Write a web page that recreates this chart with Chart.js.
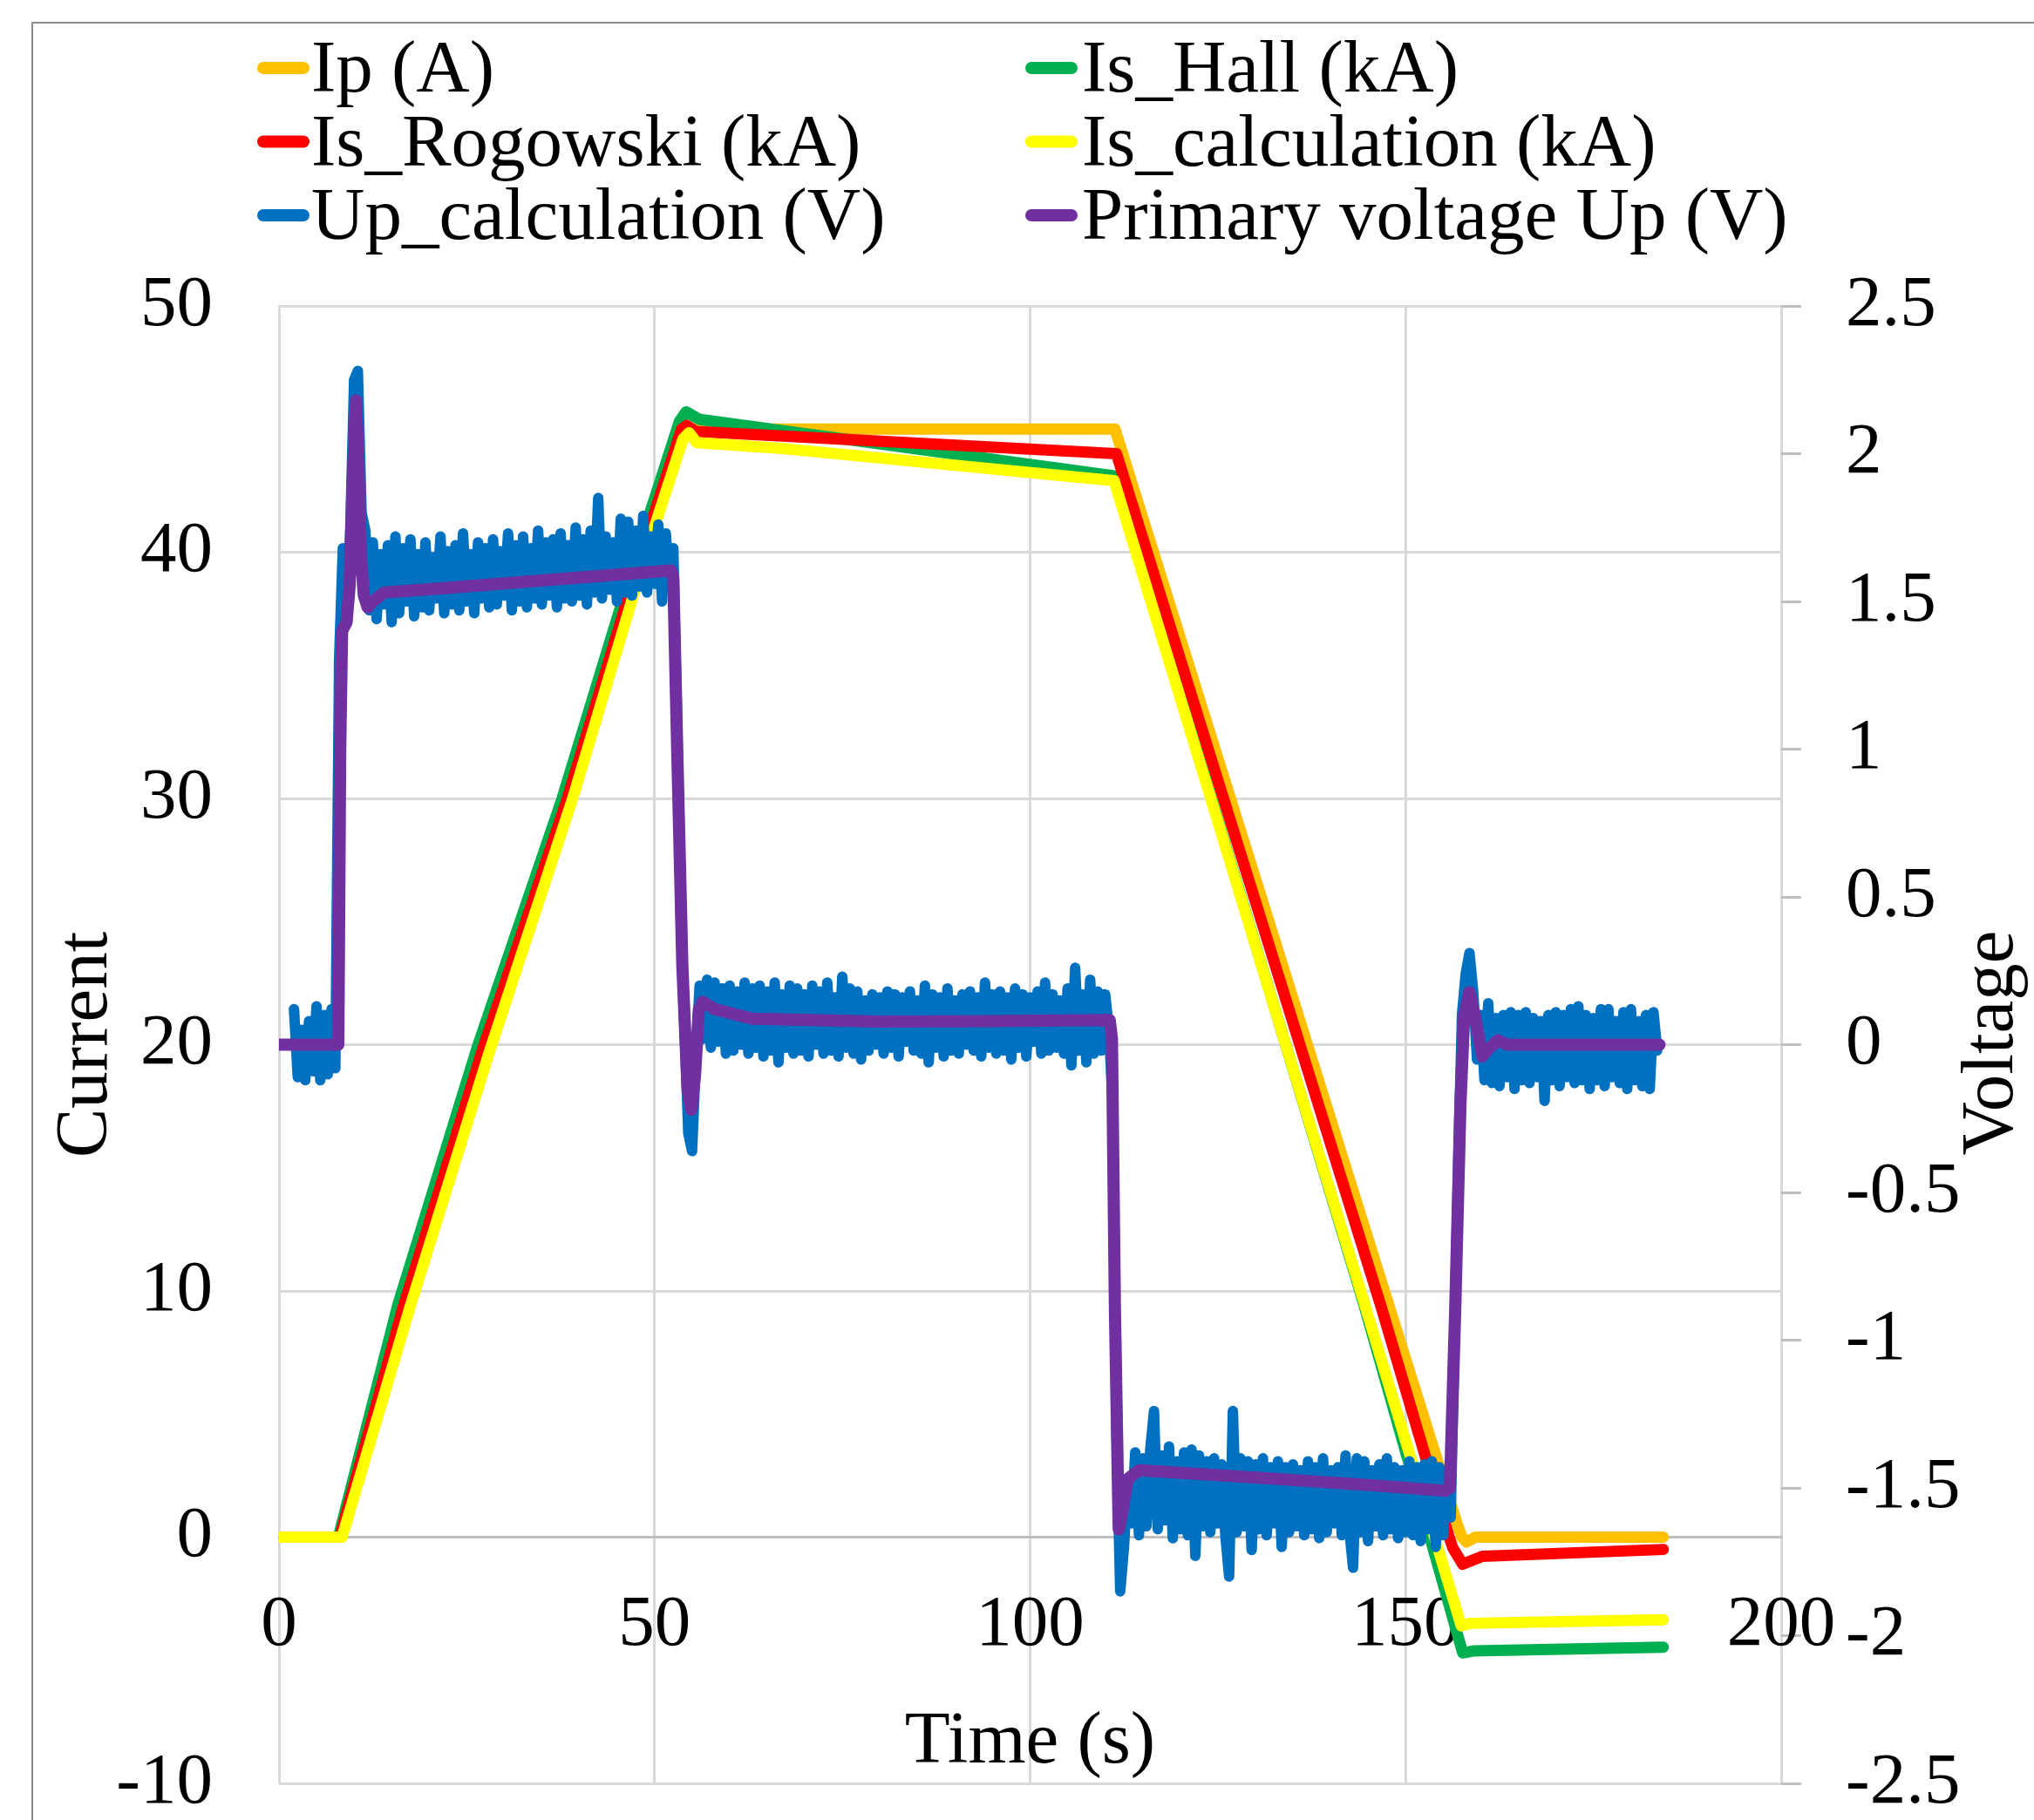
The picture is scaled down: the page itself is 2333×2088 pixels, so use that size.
<!DOCTYPE html>
<html>
<head>
<meta charset="utf-8">
<script src="https://cdn.jsdelivr.net/npm/chart.js@4.4.1/dist/chart.umd.min.js"></script>
<style>
  html, body { margin: 0; padding: 0; background: #fff; }
  #wrap { position: relative; width: 2333px; height: 2088px; }
</style>
</head>
<body>
<div id="wrap"><canvas id="chart" width="2333" height="2088"></canvas></div>
<script>
/*------------------------------------------ Data ----------------------------------------------*/
// [time (s), value] — currents on the left axis
const ipA = [[0, 0], [8.1, 0], [16.5, 9.3], [27.1, 19.8], [38.4, 30], [48.3, 40], [53.7, 45.0],
  [111.3, 45.0], [156.9, 0.5], [157.5, 0.0], [158.1, -0.2], [159.3, 0], [184.3, 0]];
const isHall = [[0, 0], [7.9, 0], [15.8, 9.4], [26.4, 19.9], [37.7, 30], [47.7, 40], [53.3, 45.3],
  [54.2, 45.7], [55.9, 45.4], [111.2, 43.1], [144.3, 9.6], [157.6, -4.7],
  [159.0, -4.62], [184.3, -4.47]];
const isRogowski = [[0, 0], [8.1, 0], [16.5, 9.3], [27.1, 19.8], [38.4, 30], [48.3, 40], [53.6, 45.0],
  [54.3, 45.15], [55.5, 44.9], [111.5, 44.0], [146.7, 9.4], [155.8, 0.0], [156.3, -0.45],
  [157.6, -1.1], [160.2, -0.78], [184.3, -0.5]];
const isCalc = [[0, 0], [8.4, 0], [17.3, 9.2], [27.9, 19.6], [39.1, 30], [48.9, 40], [53.8, 44.6],
  [54.6, 44.85], [55.6, 44.45], [67.4, 44.2], [111.2, 42.9], [144.6, 9.4], [157.4, -3.6],
  [158.6, -3.5], [184.3, -3.35]];

// primary voltage, right axis
const primaryUp = [[0, 0], [7.9, 0], [8.15, 1.0], [8.4, 1.40], [9.0, 1.43], [9.4, 1.55], [9.8, 1.9],
  [10.25, 2.18], [10.6, 1.95], [10.9, 1.65], [11.3, 1.52], [11.8, 1.48], [12.5, 1.50], [14, 1.53],
  [22, 1.545], [32, 1.565], [42, 1.585], [52.2, 1.605], [52.5, 1.58], [53.0, 1.02], [53.7, 0.27],
  [54.4, -0.15], [54.9, -0.22], [55.4, -0.1], [55.9, 0.12], [56.4, 0.145], [58, 0.12], [63, 0.088],
  [80, 0.078], [95, 0.08], [110.6, 0.083], [110.9, 0.02], [111.3, -0.9], [111.8, -1.64],
  [112.3, -1.58], [113.0, -1.47], [114.5, -1.44], [130, -1.465], [145, -1.49], [155.3, -1.51],
  [155.9, -1.50], [156.6, -0.9], [157.3, -0.2], [157.8, 0.1], [158.5, 0.177], [159.2, 0.1],
  [160.2, -0.04], [161.2, -0.01], [162.3, 0.015], [163.5, 0], [183.8, 0]];

// Up_calculation, sampled every 0.5 s from t = 2 s
const upCalcStart = 2.0;
const upCalcStep = 0.5;
const upCalcIdle = [0.12, -0.11, 0.05, -0.12, 0.08, -0.09, 0.13, -0.12, 0.10, -0.10,
  0.12, -0.08, 1.30, 1.68, 1.45, 1.75, 2.25, 2.28, 1.80, 1.74];
const upCalcRise = [1.47, 1.70, 1.44, 1.66, 1.49, 1.69, 1.43, 1.72, 1.46, 1.68,
  1.50, 1.71, 1.45, 1.66, 1.48, 1.70, 1.47, 1.65, 1.51, 1.72,
  1.46, 1.67, 1.49, 1.69, 1.47, 1.73, 1.50, 1.66, 1.46, 1.70,
  1.51, 1.68, 1.48, 1.71, 1.49, 1.67, 1.52, 1.73, 1.47, 1.69,
  1.50, 1.72, 1.48, 1.68, 1.51, 1.74, 1.49, 1.70, 1.52, 1.71,
  1.48, 1.73, 1.51, 1.69, 1.50, 1.75, 1.52, 1.71, 1.49, 1.74,
  1.53, 1.85, 1.51, 1.72, 1.54, 1.70, 1.50, 1.78, 1.53, 1.77,
  1.52, 1.74, 1.55, 1.79, 1.53, 1.72, 1.56, 1.76, 1.50, 1.73,
  1.55, 1.68, 1.10, 0.42, 0.05, -0.30, -0.36, -0.05, 0.20];
const upCalcHold = [0.02, 0.22, -0.01, 0.21, 0.01, 0.19, -0.03, 0.20, -0.02, 0.18,
  0.00, 0.21, -0.03, 0.19, -0.01, 0.20, -0.04, 0.18, -0.02, 0.21,
  -0.06, 0.17, -0.01, 0.20, -0.03, 0.19, -0.02, 0.17, -0.04, 0.20,
  0.00, 0.18, -0.03, 0.21, -0.02, 0.16, -0.04, 0.23, -0.01, 0.19,
  -0.03, 0.18, -0.05, 0.15, -0.02, 0.17, 0.00, 0.16, -0.03, 0.18,
  -0.01, 0.17, -0.04, 0.16, 0.01, 0.18, -0.02, 0.15, -0.03, 0.20,
  -0.06, 0.17, -0.01, 0.16, -0.04, 0.19, -0.02, 0.15, -0.03, 0.17,
  0.00, 0.18, -0.02, 0.16, -0.04, 0.21, -0.01, 0.17, -0.03, 0.18,
  -0.02, 0.16, -0.05, 0.19, -0.01, 0.17, -0.04, 0.16, 0.01, 0.18,
  -0.03, 0.21, -0.02, 0.17, -0.01, 0.15, -0.03, 0.19, -0.07, 0.26,
  -0.02, 0.17, -0.06, 0.22, -0.03, 0.18, -0.02, 0.17, 0.05, -0.20,
  -1.30, -1.85, -1.70, -1.48];
const upCalcFall = [-1.62, -1.38, -1.66, -1.40, -1.63, -1.37, -1.24, -1.64, -1.39, -1.61,
  -1.36, -1.67, -1.41, -1.64, -1.38, -1.66, -1.37, -1.73, -1.39, -1.63,
  -1.41, -1.65, -1.40, -1.62, -1.42, -1.66, -1.80, -1.24, -1.65, -1.40,
  -1.63, -1.41, -1.71, -1.42, -1.64, -1.40, -1.66, -1.43, -1.62, -1.41,
  -1.70, -1.43, -1.65, -1.42, -1.63, -1.44, -1.66, -1.41, -1.64, -1.43,
  -1.67, -1.40, -1.65, -1.44, -1.62, -1.43, -1.66, -1.39, -1.64, -1.77,
  -1.40, -1.65, -1.41, -1.68, -1.44, -1.63, -1.42, -1.66, -1.40, -1.64,
  -1.43, -1.67, -1.44, -1.65, -1.41, -1.66, -1.43, -1.68, -1.42, -1.64,
  -1.41, -1.70, -1.43, -1.66, -1.45, -1.60, -1.00, -0.40, 0.10, 0.24,
  0.31, 0.18, -0.05, 0.10, -0.12];
const upCalcRest = [0.14, -0.13, 0.09, -0.14, 0.10, -0.11, 0.11, -0.15, 0.10, -0.12,
  0.11, -0.13, 0.09, -0.11, 0.08, -0.19, 0.10, -0.12, 0.11, -0.14,
  0.10, -0.11, 0.12, -0.13, 0.13, -0.12, 0.10, -0.15, 0.09, -0.12,
  0.12, -0.14, 0.12, -0.11, 0.08, -0.13, 0.11, -0.15, 0.12, -0.12,
  0.08, -0.14, 0.10, -0.15, 0.11, -0.02];

const timeTicks = [0, 50, 100, 150, 200];
const currentTicks = [-10, 0, 10, 20, 30, 40, 50];
const voltageTicks = [-2.5, -2, -1.5, -1, -0.5, 0, 0.5, 1, 1.5, 2, 2.5];

/*------------------------------------------ Helpers ----------------------------------------------*/
const serif = 'Liberation Serif';
const toXY = arr => arr.map(([x, y]) => ({ x, y }));
const upCalc = [...upCalcIdle, ...upCalcRise, ...upCalcHold, ...upCalcFall, ...upCalcRest]
  .map((v, i) => ({ x: upCalcStart + i * upCalcStep, y: v }));

function series(label, data, color, axis, order, width) {
  return {
    label, data, yAxisID: axis, order,
    borderColor: color, backgroundColor: color,
    borderWidth: width, pointRadius: 0, fill: false, tension: 0,
    borderCapStyle: 'round', borderJoinStyle: 'round'
  };
}

// legend: two columns, three rows (dataset indices)
const legendRows = [[0, 1], [2, 3], [4, 5]];
const legendMarkX = [295, 1176];
const legendTextX = [357, 1241];

const frame = {
  id: 'frame',
  beforeDraw(chart) {
    const c = chart.ctx;
    c.save();
    c.fillStyle = '#fff';
    c.fillRect(0, 0, chart.width, chart.height);
    c.strokeStyle = '#8c8c8c';
    c.lineWidth = 2;
    c.beginPath();
    c.moveTo(37, chart.height);
    c.lineTo(37, 26);
    c.lineTo(chart.width, 26);
    c.stroke();
    c.restore();
  }
};

const labels = {
  id: 'labels',
  afterDraw(chart) {
    const c = chart.ctx, a = chart.chartArea;
    c.save();
    c.fillStyle = '#000';
    c.font = '85px "' + serif + '"';
    c.textBaseline = 'alphabetic';

    legendRows.forEach((row, r) => row.forEach((idx, k) => {
      const ds = chart.data.datasets[idx];
      const base = 105 + r * 84.5;
      c.strokeStyle = ds.borderColor;
      c.lineWidth = 14;
      c.lineCap = 'round';
      c.beginPath();
      c.moveTo(legendMarkX[k] + 7, base - 27);
      c.lineTo(legendMarkX[k] + 53, base - 27);
      c.stroke();
      c.textAlign = 'left';
      c.fillText(ds.label, legendTextX[k], base);
    }));

    const midY = (a.top + a.bottom) / 2;
    c.textAlign = 'center';
    c.fillText('Time (s)', (a.left + a.right) / 2, 2022);

    c.save();
    c.translate(122, midY);
    c.rotate(-Math.PI / 2);
    c.fillText('Current', 0, 0);
    c.restore();

    c.save();
    c.translate(2308, midY - 2);
    c.rotate(-Math.PI / 2);
    c.fillText('Voltage', 0, 0);
    c.restore();
    c.restore();
  }
};

/*------------------------------------------ Chart ----------------------------------------------*/
const tickFont = { family: serif, size: 83 };

let ctx = document.getElementById('chart').getContext('2d');
let chart = new Chart(ctx, {
  type: 'line',
  data: {
    datasets: [
      series('Ip (A)', toXY(ipA), '#FFC000', 'y', 5, 13),
      series('Is_Hall (kA)', toXY(isHall), '#00B050', 'y', 4, 13),
      series('Is_Rogowski (kA)', toXY(isRogowski), '#FF0000', 'y', 3, 13),
      series('Is_calculation (kA)', toXY(isCalc), '#FFFF00', 'y', 2, 13),
      series('Up_calculation (V)', upCalc, '#0070C0', 'y2', 1, 12),
      series('Primary voltage Up (V)', toXY(primaryUp), '#7030A0', 'y2', 0, 14)
    ]
  },
  options: {
    responsive: false,
    devicePixelRatio: 1,
    animation: false,
    layout: { padding: { left: 0, right: 0, top: 351, bottom: 42 } },
    plugins: { legend: { display: false }, tooltip: { enabled: false } },
    scales: {
      x: {
        type: 'linear', min: 0, max: 200,
        position: { y: 0 },
        afterBuildTicks: s => { s.ticks = timeTicks.map(v => ({ value: v })); },
        ticks: { font: tickFont, color: '#000', padding: 52, maxRotation: 0, autoSkip: false },
        grid: { color: '#d9d9d9', lineWidth: 3, drawTicks: false },
        border: { display: true, color: '#bfbfbf', width: 3 }
      },
      y: {
        position: 'left', min: -10, max: 50,
        afterBuildTicks: s => { s.ticks = currentTicks.map(v => ({ value: v })); },
        ticks: { font: tickFont, color: '#000', padding: 76, autoSkip: false },
        grid: { color: c => (c.tick && c.tick.value === 0 ? '#bfbfbf' : '#d9d9d9'), lineWidth: 3, drawTicks: false },
        border: { display: false },
        afterFit: s => { s.width = 320; s.paddingTop = 0; s.paddingBottom = 0; }
      },
      y2: {
        position: 'right', min: -2.5, max: 2.5,
        afterBuildTicks: s => { s.ticks = voltageTicks.map(v => ({ value: v })); },
        ticks: { font: tickFont, color: '#000', padding: 51, autoSkip: false, callback: v => String(v) },
        grid: { drawOnChartArea: false, drawTicks: true, tickLength: 23, color: '#bfbfbf', lineWidth: 3 },
        border: { display: false },
        afterFit: s => { s.width = 290; s.paddingTop = 0; s.paddingBottom = 0; }
      }
    }
  },
  plugins: [frame, labels]
});
</script>
</body>
</html>
